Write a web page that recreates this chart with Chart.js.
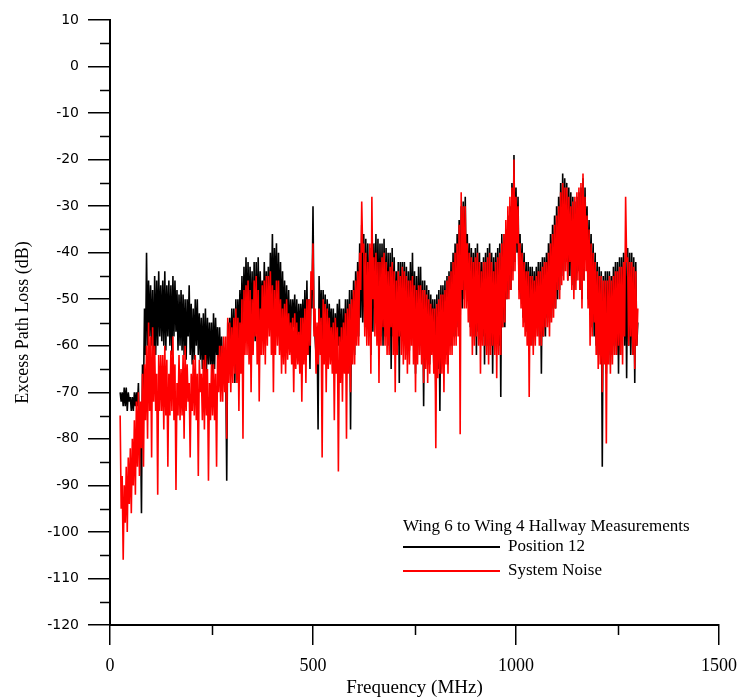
<!DOCTYPE html>
<html>
<head>
<meta charset="utf-8">
<title>Excess Path Loss</title>
<script src="https://cdn.jsdelivr.net/npm/chart.js@4.4.1/dist/chart.umd.min.js"></script>
<style>
  body { margin: 0; background: #fff; }
</style>
</head>
<body>
<canvas id="myChart" width="738" height="700"></canvas>
<script>
// Sweep grid (MHz): first sample and spacing
var freqStart = 25;
var freqStep = 2.5;

// Position 12 (black trace), dB, one value per 2.5 MHz from 25 to 1300 MHz
var position12 = [
    -70, -72, -70, -73, -69, -73, -69, -74, -70, -72, -71, -74, -71, -74, -70, -73, -70, -73, -68, -80,
    -75, -96, -64, -70, -52, -62, -40, -60, -46, -58, -47, -60, -48, -66, -45, -62, -46, -60, -44, -58,
    -47, -59, -46, -60, -44, -61, -47, -58, -46, -60, -47, -62, -45, -58, -46, -57, -48, -61, -49, -60,
    -48, -61, -49, -62, -50, -63, -50, -58, -47, -62, -51, -64, -52, -63, -50, -60, -50, -62, -53, -63,
    -54, -65, -53, -66, -52, -66, -54, -64, -55, -64, -55, -67, -53, -65, -54, -62, -56, -66, -56, -65,
    -58, -67, -62, -66, -64, -89, -55, -60, -54, -63, -52, -62, -52, -68, -50, -61, -50, -60, -48, -58,
    -45, -58, -43, -56, -41, -56, -42, -55, -43, -58, -44, -60, -42, -59, -42, -57, -41, -56, -44, -54,
    -46, -56, -42, -54, -44, -55, -43, -56, -40, -52, -36, -55, -39, -50, -38, -56, -40, -54, -42, -56,
    -44, -57, -46, -58, -47, -59, -48, -60, -50, -58, -50, -56, -49, -60, -50, -62, -51, -59, -51, -58,
    -50, -60, -48, -62, -46, -62, -50, -65, -48, -52, -30, -56, -58, -62, -56, -78, -45, -58, -48, -60,
    -48, -60, -49, -62, -50, -61, -51, -58, -52, -62, -52, -66, -53, -62, -51, -60, -50, -62, -52, -64,
    -52, -63, -50, -66, -50, -64, -48, -78, -48, -60, -46, -62, -44, -58, -42, -58, -38, -54, -34, -55,
    -36, -56, -37, -55, -38, -58, -39, -62, -40, -57, -38, -54, -36, -56, -37, -58, -38, -58, -38, -60,
    -37, -58, -39, -58, -40, -60, -40, -65, -39, -58, -41, -60, -44, -60, -42, -68, -42, -58, -42, -56,
    -42, -60, -43, -62, -44, -61, -42, -58, -40, -60, -44, -66, -45, -62, -43, -60, -43, -62, -46, -73,
    -46, -63, -47, -64, -48, -64, -49, -60, -50, -64, -50, -70, -49, -65, -48, -74, -47, -63, -47, -62,
    -46, -62, -45, -64, -44, -60, -42, -60, -40, -58, -38, -58, -36, -56, -33, -55, -30, -52, -29, -50,
    -28, -48, -36, -50, -38, -56, -39, -58, -40, -58, -39, -62, -38, -57, -40, -56, -42, -58, -41, -64,
    -40, -60, -39, -62, -38, -60, -40, -66, -41, -60, -40, -58, -39, -60, -38, -71, -36, -56, -36, -56,
    -35, -50, -32, -48, -30, -48, -25, -44, -19, -42, -26, -40, -28, -48, -36, -50, -38, -54, -40, -55,
    -42, -57, -42, -58, -43, -58, -43, -60, -44, -58, -43, -55, -42, -58, -42, -66, -41, -58, -41, -58,
    -40, -54, -38, -55, -36, -54, -34, -52, -32, -52, -30, -50, -28, -48, -25, -45, -23, -44, -24, -42,
    -25, -46, -26, -45, -27, -47, -28, -48, -29, -46, -28, -44, -27, -48, -26, -50, -24, -46, -26, -40,
    -30, -50, -33, -50, -36, -56, -38, -58, -40, -60, -42, -62, -43, -62, -44, -86, -45, -62, -44, -66,
    -44, -62, -44, -64, -45, -62, -43, -60, -42, -62, -42, -66, -41, -62, -41, -58, -40, -60, -40, -67,
    -39, -60, -40, -62, -40, -62, -41, -68, -42, -60, -55
];

// System Noise (red trace), dB, same grid
var systemNoise = [
    -75, -95, -88, -106, -90, -98, -86, -100, -84, -94, -82, -96, -80, -90, -76, -92, -72, -86, -70, -88,
    -72, -82, -66, -86, -64, -76, -60, -80, -55, -74, -58, -84, -56, -72, -60, -74, -66, -92, -62, -74,
    -62, -74, -62, -78, -60, -75, -63, -86, -66, -75, -61, -74, -58, -76, -64, -91, -68, -75, -62, -76,
    -65, -75, -62, -80, -60, -74, -64, -72, -68, -84, -66, -74, -63, -75, -62, -76, -66, -88, -63, -70,
    -66, -76, -63, -78, -62, -75, -65, -89, -68, -76, -64, -75, -64, -76, -66, -86, -62, -70, -60, -72,
    -60, -72, -58, -70, -58, -80, -54, -68, -55, -70, -56, -68, -54, -66, -52, -68, -54, -74, -55, -66,
    -50, -80, -48, -62, -47, -62, -46, -64, -48, -70, -50, -62, -46, -58, -45, -64, -48, -72, -52, -62,
    -47, -62, -46, -64, -45, -60, -45, -58, -44, -62, -47, -70, -48, -62, -46, -60, -46, -62, -50, -66,
    -52, -64, -51, -66, -50, -63, -53, -62, -55, -64, -54, -70, -53, -65, -55, -64, -57, -66, -54, -72,
    -54, -64, -52, -68, -50, -62, -50, -60, -44, -48, -38, -58, -52, -66, -55, -64, -52, -62, -54, -84,
    -50, -64, -51, -70, -52, -65, -54, -64, -56, -66, -55, -76, -54, -66, -56, -87, -58, -68, -56, -72,
    -55, -66, -53, -80, -52, -66, -51, -70, -50, -64, -48, -64, -46, -60, -44, -60, -40, -48, -29, -40,
    -38, -58, -40, -60, -42, -60, -38, -66, -28, -50, -41, -58, -40, -60, -42, -68, -42, -60, -41, -56,
    -40, -60, -42, -62, -44, -62, -43, -56, -42, -62, -44, -70, -46, -62, -44, -58, -45, -62, -43, -64,
    -44, -63, -45, -66, -46, -64, -46, -60, -45, -64, -47, -70, -48, -64, -47, -62, -47, -64, -48, -68,
    -48, -65, -49, -68, -50, -66, -51, -62, -52, -66, -52, -82, -51, -67, -50, -66, -49, -66, -49, -70,
    -48, -64, -46, -66, -45, -62, -44, -62, -42, -60, -40, -60, -38, -58, -34, -79, -27, -48, -30, -52,
    -30, -52, -38, -55, -40, -58, -41, -62, -42, -60, -41, -58, -40, -60, -42, -66, -44, -60, -42, -60,
    -42, -62, -41, -64, -40, -62, -42, -60, -44, -62, -42, -67, -41, -62, -40, -62, -38, -56, -36, -55,
    -33, -50, -30, -50, -28, -48, -26, -46, -20, -44, -28, -38, -30, -50, -38, -52, -40, -56, -42, -58,
    -44, -60, -44, -71, -45, -60, -45, -62, -46, -60, -45, -58, -44, -60, -44, -60, -43, -58, -42, -56,
    -42, -56, -40, -58, -38, -55, -36, -54, -34, -52, -32, -48, -30, -50, -27, -47, -25, -46, -26, -44,
    -26, -46, -28, -42, -30, -48, -29, -50, -28, -48, -27, -46, -26, -48, -25, -52, -23, -46, -28, -44,
    -32, -52, -35, -60, -38, -58, -40, -55, -42, -62, -44, -65, -45, -64, -45, -70, -46, -64, -46, -81,
    -46, -64, -45, -66, -46, -64, -45, -62, -44, -62, -44, -60, -43, -62, -43, -64, -42, -58, -28, -42,
    -41, -60, -42, -58, -42, -62, -43, -65, -44, -60, -52
];

// Axis ticks
var xTickValues = [0, 500, 1000, 1500];
var xMinorTicks = [250, 750, 1250];
var yTickValues = [-120, -110, -100, -90, -80, -70, -60, -50, -40, -30, -20, -10, 0, 10];
var yMinorTicks = [-115, -105, -95, -85, -75, -65, -55, -45, -35, -25, -15, -5, 5];

var legendTitle = "Wing 6 to Wing 4 Hallway Measurements";

function toPoints(values) {
    var pts = [];
    for (var i = 0; i < values.length; i++) {
        pts.push({ x: freqStart + i * freqStep, y: values[i] });
    }
    return pts;
}

// minor ticks, not provided by Chart.js
var minorTicks = {
    id: 'minorTicks',
    afterDraw: function(chart) {
        var ctx = chart.ctx;
        var xs = chart.scales.x, ys = chart.scales.y;
        var area = chart.chartArea;
        ctx.save();
        ctx.strokeStyle = '#000';
        ctx.lineWidth = 1.5;
        ctx.beginPath();
        yMinorTicks.forEach(function(v) {
            var py = Math.round(ys.getPixelForValue(v)) + 0.5;
            ctx.moveTo(area.left - 10, py);
            ctx.lineTo(area.left, py);
        });
        xMinorTicks.forEach(function(v) {
            var px = Math.round(xs.getPixelForValue(v)) + 0.5;
            ctx.moveTo(px, area.bottom);
            ctx.lineTo(px, area.bottom + 10);
        });
        ctx.stroke();
        ctx.restore();
    }
};

// legend box in the lower right of the plot
var boxLegend = {
    id: 'boxLegend',
    afterDraw: function(chart) {
        var ctx = chart.ctx;
        var x0 = 403, y0 = 527;
        ctx.save();
        ctx.fillStyle = '#000';
        ctx.font = '17px "Liberation Serif"';
        ctx.textBaseline = 'middle';
        ctx.textAlign = 'left';
        ctx.fillText(legendTitle, x0, y0);
        chart.data.datasets.forEach(function(ds, i) {
            var y = y0 + 20 + i * 24;
            ctx.strokeStyle = ds.borderColor;
            ctx.lineWidth = 2;
            ctx.beginPath();
            ctx.moveTo(x0, y);
            ctx.lineTo(x0 + 97, y);
            ctx.stroke();
            ctx.fillStyle = '#000';
            ctx.fillText(ds.label, x0 + 105, y);
        });
        ctx.restore();
    }
};

var ctx = document.getElementById('myChart').getContext('2d');
var myChart = new Chart(ctx, {
    type: 'line',
    data: {
        datasets: [{
            label: 'Position 12',
            data: toPoints(position12),
            borderColor: '#000000',
            borderWidth: 1.6,
            borderJoinStyle: 'bevel',
            pointRadius: 0,
            tension: 0,
            order: 2
        }, {
            label: 'System Noise',
            data: toPoints(systemNoise),
            borderColor: '#ff0000',
            borderWidth: 1.6,
            borderJoinStyle: 'bevel',
            pointRadius: 0,
            tension: 0,
            order: 1
        }]
    },
    options: {
        responsive: false,
        animation: false,
        layout: { padding: { top: 20, right: 0, left: 0, bottom: 0 } },
        plugins: {
            legend: { display: false },
            tooltip: { enabled: false }
        },
        scales: {
            x: {
                type: 'linear',
                min: 0,
                max: 1500,
                afterBuildTicks: function(scale) {
                    scale.ticks = xTickValues.map(function(v) { return { value: v }; });
                },
                afterFit: function(scale) {
                    scale.height = 75;
                    scale.paddingLeft = 0;
                    scale.paddingRight = 19;
                },
                ticks: {
                    color: '#000',
                    font: { family: '"Liberation Serif"', size: 18 },
                    padding: 10,
                    maxRotation: 0,
                    callback: function(v) { return String(v); }
                },
                grid: {
                    drawOnChartArea: false,
                    drawTicks: true,
                    tickLength: 20,
                    color: '#000',
                    lineWidth: 1.5
                },
                border: { display: true, color: '#000', width: 2 },
                title: {
                    display: true,
                    text: 'Frequency (MHz)',
                    color: '#000',
                    font: { family: '"Liberation Serif"', size: 19 },
                    padding: { top: 0, bottom: 1 }
                }
            },
            y: {
                type: 'linear',
                min: -120,
                max: 10,
                afterBuildTicks: function(scale) {
                    scale.ticks = yTickValues.map(function(v) { return { value: v }; });
                },
                afterFit: function(scale) {
                    scale.width = 110;
                    scale.paddingTop = 0;
                    scale.paddingBottom = 0;
                },
                ticks: {
                    color: '#000',
                    font: { family: '"DejaVu Sans"', size: 14 },
                    padding: 9,
                    callback: function(v) { return String(v); }
                },
                grid: {
                    drawOnChartArea: false,
                    drawTicks: true,
                    tickLength: 22,
                    color: '#000',
                    lineWidth: 1.5
                },
                border: { display: true, color: '#000', width: 2 },
                title: {
                    display: true,
                    text: 'Excess Path Loss (dB)',
                    color: '#000',
                    font: { family: '"Liberation Serif"', size: 18 },
                    padding: { top: 12, bottom: 0 }
                }
            }
        }
    },
    plugins: [minorTicks, boxLegend]
});
</script>
</body>
</html>
